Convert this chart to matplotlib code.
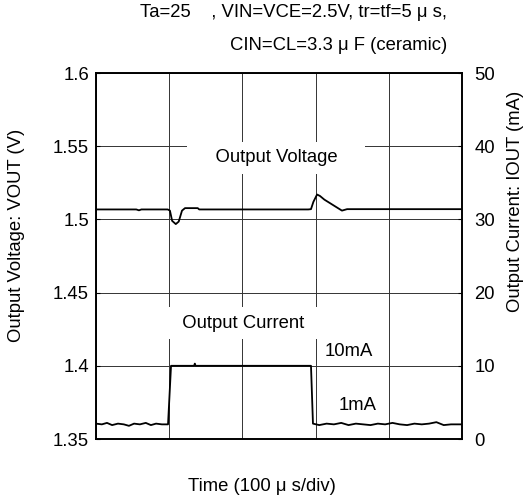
import matplotlib
matplotlib.use("Agg")
import matplotlib.pyplot as plt

plt.rcParams['font.family'] = ['Liberation Sans', 'DejaVu Sans']

# Output voltage trace (time in us, VOUT in V)
volt_t = [0, 55, 58.7, 62, 98, 101, 104, 109, 113, 117.5, 121.6, 139, 141, 290, 293.7,
          297, 302, 306, 312, 320, 328, 336, 343, 500]
volt_v = [1.5068, 1.5068, 1.5062, 1.5068, 1.5068, 1.5060, 1.4990, 1.4968, 1.4985, 1.5060,
          1.5077, 1.5077, 1.5068, 1.5068, 1.5070, 1.5120, 1.5170, 1.5160, 1.5135, 1.5110,
          1.5085, 1.5060, 1.5070, 1.5070]

# Output current trace (time in us, IOUT in mA)
cur_t = [0, 8, 15, 22, 30, 38, 45, 52, 60, 68, 75, 82, 90, 98.4, 102.5, 134, 135, 136,
         293.7, 296.4, 305, 315, 325, 335, 345, 355, 365, 375, 385, 395, 405, 415, 425,
         435, 445, 455, 465, 475, 485, 500]
cur_i = [2.1, 2.0, 2.2, 1.9, 2.1, 2.0, 1.8, 2.1, 2.0, 2.2, 1.9, 2.1, 2.0, 2.0, 10.0, 10.0,
         10.3, 10.0, 10.0, 2.1, 1.9, 2.1, 2.0, 2.2, 1.9, 2.1, 2.0, 1.9, 2.1, 2.0, 2.2, 2.0,
         1.9, 2.1, 2.0, 2.1, 2.3, 1.9, 2.0, 2.0]

v_ticks = [1.35, 1.4, 1.45, 1.5, 1.55, 1.6]
v_labels = ["1.35", "1.4", "1.45", "1.5", "1.55", "1.6"]
i_ticks = [0, 10, 20, 30, 40, 50]
t_grid = [0, 100, 200, 300, 400, 500]

FS = 13.3
W, H = 530, 498

fig = plt.figure(figsize=(W / 100, H / 100), dpi=100)
ax = fig.add_axes([96 / W, 59 / H, 366 / W, 366 / H])
ax2 = ax.twinx()

ax.set_xlim(0, 500)
ax.set_ylim(1.35, 1.6)
ax2.set_ylim(0, 50)

ax.set_xticks(t_grid)
ax.set_xticklabels([])
ax.set_yticks(v_ticks)
ax.set_yticklabels(v_labels)
ax2.set_yticks(i_ticks)

ax.grid(True, color="#333333", linewidth=0.7)
ax.tick_params(axis="x", length=0)
ax.tick_params(axis="y", direction="in", length=3, labelsize=FS, pad=5)
ax2.tick_params(axis="y", direction="in", length=3, labelsize=FS, pad=9)

for a in (ax, ax2):
    for s in a.spines.values():
        s.set_linewidth(1.2)

ax.plot(volt_t, volt_v, color="black", linewidth=1.3, zorder=5)
ax2.plot(cur_t, cur_i, color="black", linewidth=1.3, zorder=5)

ax.text(246, 1.542, "    Output Voltage    ", ha="center", va="center", fontsize=FS,
        bbox=dict(boxstyle="square,pad=0.4", facecolor="white", edgecolor="none"), zorder=4)
ax2.text(201, 15.8, "  Output Current  ", ha="center", va="center", fontsize=FS,
         bbox=dict(boxstyle="square,pad=0.4", facecolor="white", edgecolor="none"), zorder=4)
ax2.text(313, 11.9, "10mA", ha="left", va="center", fontsize=FS)
ax2.text(331, 4.6, "1mA", ha="left", va="center", fontsize=FS)

fig.text(17 / W, 1 - 235 / H, "Output Voltage: VOUT (V)", rotation=90,
         ha="center", va="center", fontsize=FS)
fig.text(515 / W, 1 - 201 / H, "Output Current: IOUT (mA)", rotation=90,
         ha="center", va="center", fontsize=FS)
fig.text(261.5 / W, 1 - 491 / H, "Time (100 μ s/div)", ha="center", va="baseline",
         fontsize=FS)

fig.text(447 / W, 1 - 17 / H, "Ta=25    , VIN=VCE=2.5V, tr=tf=5 μ s,",
         ha="right", va="baseline", fontsize=FS)
fig.text(447 / W, 1 - 50 / H, "CIN=CL=3.3 μ F (ceramic)",
         ha="right", va="baseline", fontsize=FS)

fig.savefig("out.png", dpi=100)
plt.close(fig)
